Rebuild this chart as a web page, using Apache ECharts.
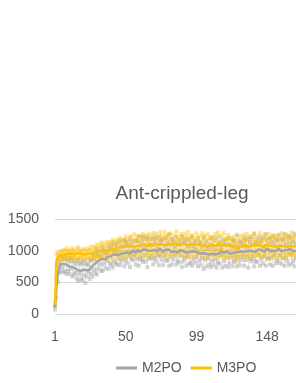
<!DOCTYPE html>
<html>
<head>
<meta charset="utf-8">
<script src="https://cdn.jsdelivr.net/npm/echarts@6/dist/echarts.min.js"></script>
<style>html,body{margin:0;padding:0;background:#fff}#c{width:296px;height:383px}</style>
</head>
<body>
<div id="c"></div>
<script>
const title = 'Ant-crippled-leg';
const seriesNames = ['M2PO', 'M3PO'];
const yTicks = [0, 500, 1000, 1500];

const meanM2 = [
100,420,640,740,790,800,790,770,780,760,
750,770,740,730,720,700,690,710,680,690,
700,670,690,720,700,740,760,780,790,820,
830,850,840,870,880,860,900,890,910,920,
930,910,940,950,930,960,950,970,960,980,
970,990,960,980,1000,990,970,1010,990,980,
1000,1020,990,1010,980,1000,1030,1000,990,1010,
1020,990,1000,1030,1010,980,1000,1020,990,1010,
1000,980,1010,990,1000,970,990,1010,980,990,
1000,970,990,980,960,990,970,980,960,970,
980,950,970,960,980,950,960,940,970,950,
960,940,970,950,960,980,950,970,960,990,
970,950,980,960,990,970,1000,980,960,990,
1000,980,1010,990,970,1000,1020,990,1010,980,
1000,1020,990,1010,1000,980,1010,1030,1000,990,
1010,1000,1020,990,1010,1030,1000,990,1020,1010,
990,1010,1000,1030,1000,990,1010,1000];

const errM2 = [
30,160,140,90,120,70,130,100,150,80,
120,60,150,110,70,140,170,80,130,160,
90,180,100,60,150,110,170,80,140,200,
120,70,160,190,90,140,60,180,110,150,
200,80,140,170,60,190,120,90,210,130,
170,80,220,110,150,60,190,140,230,100,
150,200,70,180,240,110,160,90,210,130,
190,70,230,120,160,210,80,180,140,250,
100,200,150,70,220,130,180,90,240,160,
120,210,80,190,150,230,100,170,60,220,
140,180,90,250,120,200,70,160,230,110,
190,80,240,140,170,60,220,130,200,100,
230,150,90,210,170,120,250,80,190,140,
100,220,160,70,240,130,190,110,260,150,
180,90,230,140,200,70,250,160,110,210,
130,240,90,190,160,220,80,200,140,250,
110,180,230,90,210,150,260,120];

const meanM3 = [
150,850,900,920,930,940,935,945,950,940,
950,945,955,950,940,950,960,945,955,950,
940,955,950,960,950,965,960,975,970,985,
980,990,1000,990,1005,1010,1000,1020,1015,1030,
1020,1040,1030,1045,1050,1040,1060,1050,1065,1060,
1070,1055,1075,1080,1065,1085,1070,1090,1080,1075,
1095,1080,1100,1085,1070,1095,1110,1090,1080,1100,
1110,1085,1095,1120,1100,1080,1095,1110,1090,1100,
1105,1085,1100,1090,1115,1095,1080,1100,1110,1090,
1100,1085,1095,1110,1090,1075,1100,1085,1095,1080,
1090,1070,1085,1100,1075,1090,1065,1080,1095,1070,
1085,1100,1075,1090,1120,1080,1070,1090,1060,1080,
1070,1090,1065,1080,1060,1040,1010,1030,1070,1085,
1060,1080,1100,1070,1055,1085,1075,1060,1090,1070,
1080,1060,1095,1075,1050,1085,1070,1090,1065,1080,
1100,1070,1085,1060,1090,1075,1050,1080,1095,1070,
1085,1060,1090,1075,1100,1065,1080,1070];

const errM3 = [
30,90,60,40,70,35,80,50,90,45,
60,40,85,55,35,75,95,45,65,40,
90,55,40,80,60,100,45,85,70,110,
60,95,130,70,110,50,140,80,120,65,
150,90,60,130,100,160,70,120,90,170,
110,60,150,130,80,180,100,140,70,160,
120,190,80,150,100,170,60,140,200,90,
160,110,70,180,130,90,200,120,150,80,
170,100,140,60,190,120,80,160,110,180,
90,150,200,70,130,170,100,60,180,120,
140,80,190,110,160,70,200,130,90,150,
120,170,80,200,110,150,60,190,130,100,
180,90,140,70,160,120,100,190,80,150,
110,170,60,200,130,90,160,120,180,70,
150,100,190,80,140,170,110,60,200,120,
90,160,130,180,70,150,110,200,100,140,
170,80,150,120,190,100,140,160];

const categories = meanM2.map((_, i) => String(i + 1));

function errData(mean, err) {
  return mean.map((m, i) => [i, m - err[i], m + err[i]]);
}
function errRender(lineColor, boxColor) {
  return function (params, api) {
    const lo = api.coord([api.value(0), api.value(1)]);
    const hi = api.coord([api.value(0), api.value(2)]);
    return {
      type: 'group',
      children: [
        {type: 'line', shape: {x1: lo[0], y1: lo[1], x2: hi[0], y2: hi[1]}, style: {stroke: lineColor, lineWidth: 1}},
        {type: 'rect', shape: {x: lo[0] - 2, y: lo[1] - 2, width: 4, height: 4}, style: {fill: boxColor}},
        {type: 'rect', shape: {x: hi[0] - 2, y: hi[1] - 2, width: 4, height: 4}, style: {fill: boxColor}}
      ]
    };
  };
}

const font = 'Liberation Sans, Arial, sans-serif';
const chart = echarts.init(document.getElementById('c'), null, {renderer: 'canvas'});
chart.setOption({
  animation: false,
  backgroundColor: '#fff',
  title: {
    text: title, left: 177, textAlign: 'center', top: 179,
    textStyle: {fontFamily: font, fontSize: 19, fontWeight: 'normal', color: '#595959'}
  },
  legend: {
    data: seriesNames.map(n => ({name: n, icon: 'rect'})),
    left: 111, top: 356, itemWidth: 21, itemHeight: 3, itemGap: 9,
    textStyle: {fontFamily: font, fontSize: 14, color: '#595959'}
  },
  grid: {left: 55, right: 0, top: 219, bottom: 69, containLabel: false},
  xAxis: {
    type: 'category', data: categories, boundaryGap: false,
    axisLine: {show: false}, axisTick: {show: false},
    axisLabel: {interval: 48, margin: 16, fontFamily: font, fontSize: 14, color: '#595959'},
    splitLine: {show: false}
  },
  yAxis: {
    type: 'value', min: yTicks[0], max: yTicks[yTicks.length - 1], interval: 500,
    axisLine: {show: false}, axisTick: {show: false},
    axisLabel: {margin: 16, fontFamily: font, fontSize: 14, color: '#595959', formatter: v => String(v)},
    splitLine: {lineStyle: {color: '#D9D9D9', width: 1}}
  },
  series: [
    {name: 'M2PO err', type: 'custom', renderItem: errRender('rgba(165,165,165,0.3)', 'rgba(165,165,165,0.45)'), data: errData(meanM2, errM2), encode: {x: 0, y: [1, 2]}, z: 1},
    {name: 'M3PO err', type: 'custom', renderItem: errRender('rgba(255,192,0,0.25)', 'rgba(255,192,0,0.4)'), data: errData(meanM3, errM3), encode: {x: 0, y: [1, 2]}, z: 1},
    {name: 'M2PO', type: 'line', data: meanM2, symbol: 'none', lineStyle: {color: '#A5A5A5', width: 2.5}, itemStyle: {color: '#A5A5A5'}, z: 3},
    {name: 'M3PO', type: 'line', data: meanM3, symbol: 'none', lineStyle: {color: '#FFC000', width: 2.5}, itemStyle: {color: '#FFC000'}, z: 4}
  ]
});
</script>
</body>
</html>
